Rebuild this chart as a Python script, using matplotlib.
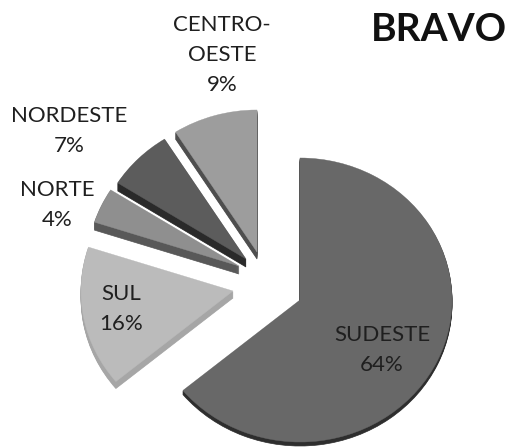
import matplotlib
matplotlib.use("Agg")
import matplotlib.pyplot as plt
from matplotlib.patches import Wedge

regions = ["SUDESTE", "SUL", "NORTE", "NORDESTE", "CENTRO-\nOESTE"]
shares = [64, 16, 4, 7, 9]
title = "BRAVO"

# styles (pixel layout of the exploded slices)
apex_px = [(300, 300), (233, 291), (239, 266), (246, 259), (257, 252)]
top_col = ["#686868", "#bbbbbb", "#8f8f8f", "#5c5c5c", "#9d9d9d"]
side_col = ["#2e2e2e", "#a6a6a6", "#585858", "#2a2a2a", "#4e4e4e"]
depth_px = [4, 7, 8, 8, 7]
label_px = [(382, 350), (121, 309), (57, 205), (69, 131), (222, 55)]
RX = 152
YS = 142 / 152

W, H = 508, 448
plt.rcParams['font.family'] = ['Lato', 'DejaVu Sans']
fig = plt.figure(figsize=(W / 100, H / 100), dpi=100)
ax = fig.add_axes([0, 0, 1, 1])
ax.set_xlim(0, W)
ax.set_ylim(0, H / YS)
ax.axis("off")


def dy(py):
    return (H - py) / YS


cum = 0
for name, v, (ax_x, ax_y), tc, sc, d in zip(regions, shares, apex_px, top_col, side_col, depth_px):
    a_end = 90 - cum * 3.6
    a_start = 90 - (cum + v) * 3.6
    cum += v
    for k in range(d, 0, -1):
        ax.add_patch(Wedge((ax_x, dy(ax_y + k)), RX, a_start, a_end, fc=sc, ec=sc, lw=0.5))
    ax.add_patch(Wedge((ax_x, dy(ax_y)), RX, a_start, a_end, fc=tc, ec=tc, lw=0.3))

for name, v, (lx, ly) in zip(regions, shares, label_px):
    ax.text(lx, dy(ly), f"{name}\n{v}%", ha="center", va="center", fontsize=16,
            color="#1f1f1f", linespacing=1.65)

ax.text(439, dy(29), title, ha="center", va="center", fontsize=28, fontweight="bold", color="#111111")
fig.savefig("out.png", dpi=100)
